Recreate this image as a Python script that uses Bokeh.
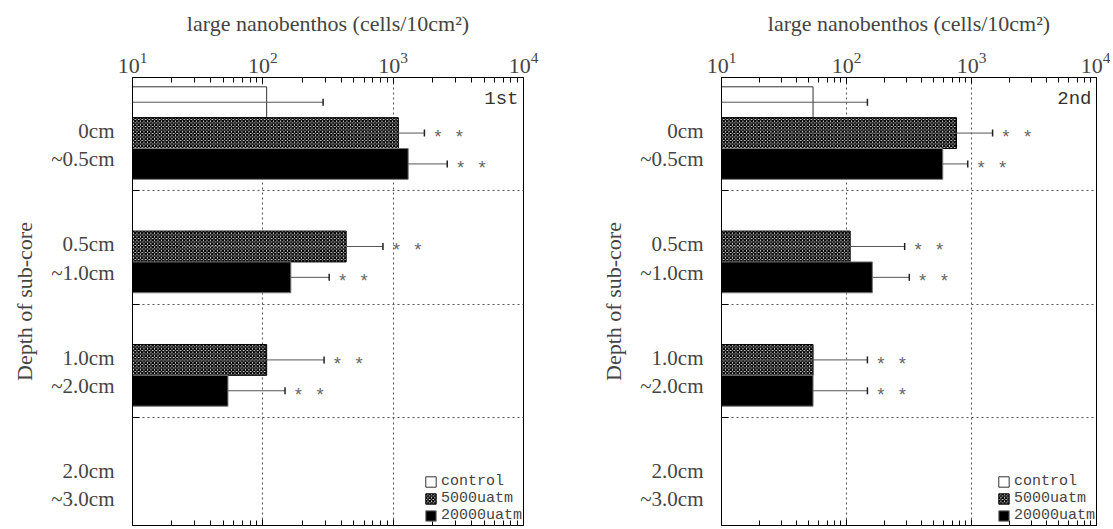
from bokeh.plotting import figure
from bokeh.models import (Range1d, FixedTicker, LogAxis, Whisker, TeeHead,
                          ColumnDataSource, Legend, LegendItem, Label,
                          CustomJSTickFormatter)
from bokeh.layouts import row
from bokeh.embed import file_html
from bokeh.resources import INLINE
from bokeh.core.properties import value

# ---------------- data ----------------
DEPTH_TOP = ["0cm", "0.5cm", "1.0cm", "2.0cm"]
DEPTH_BOTTOM = ["~0.5cm", "~1.0cm", "~2.0cm", "~3.0cm"]
SERIES = ["control", "5000uatm", "20000uatm"]
X_LABEL = "large nanobenthos (cells/10cm\u00b2)"
Y_LABEL = "Depth of sub-core"
PANEL_TAGS = ["1st", "2nd"]
X_TICKS = [10, 100, 1000, 10000]

# 1st experiment (means, upper error, lower error; None = no bar / below axis)
first_control = [107, None, None, None]
first_5000 = [1096, 436, 107, None]
first_20000 = [1304, 164, 54, None]
first_control_hi = [290, None, None, None]
first_5000_hi = [1737, 835, 295, None]
first_20000_hi = [2600, 323, 148, None]
first_control_lo = [None, None, None, None]
first_5000_lo = [427, 24, None, None]
first_20000_lo = [1304, 164, 54, None]

# 2nd experiment
second_control = [54, None, None, None]
second_5000 = [759, 107, 54, None]
second_20000 = [589, 161, 54, None]
second_control_hi = [147, None, None, None]
second_5000_hi = [1475, 292, 147, None]
second_20000_hi = [933, 318, 147, None]
second_control_lo = [None, None, None, None]
second_5000_lo = [24.6, None, None, None]
second_20000_lo = [589, 161, 54, None]

# significance marks
sig_control = ["", "", "", ""]
sig_5000 = ["* *", "* *", "* *", ""]
sig_20000 = ["* *", "* *", "* *", ""]

X_MIN, X_MAX = 10, 10000
Y_END = 3.95
SERIF = "Liberation Serif"
MONO = "Liberation Mono"

BAR_H = 0.272
OFFSETS = [-BAR_H, 0.0, BAR_H]
GROUP_MID = 0.49
LABEL_POS_TOP = 0.47
LABEL_POS_BOTTOM = 0.72

STYLES = [
    dict(fill_color="white", line_color="#333333", hatch_pattern=None),
    dict(fill_color="white", line_color="black", hatch_pattern="diagonal_cross"),
    dict(fill_color="black", line_color="#777777", hatch_pattern=None),
]


def build(tag, means, his, los, sigs, min_left, min_right, width):
    p = figure(width=width, height=527, x_axis_type="log",
               x_range=Range1d(X_MIN, X_MAX), y_range=Range1d(Y_END, 0),
               x_axis_location="above", output_backend="svg",
               toolbar_location=None, min_border_left=min_left,
               min_border_right=min_right, min_border_top=77,
               min_border_bottom=2)
    p.outline_line_color = "black"
    p.outline_line_alpha = 1.0

    minor = [m * d for d in X_TICKS[:-1] for m in range(2, 10)]
    xt = FixedTicker(ticks=X_TICKS, minor_ticks=minor)

    ax = p.xaxis[0]
    ax.ticker = xt
    ax.axis_label = X_LABEL
    ax.axis_label_text_font = SERIF
    ax.axis_label_text_font_style = "normal"
    ax.axis_label_text_font_size = "22px"
    ax.axis_label_standoff = 14
    ax.major_label_text_font = SERIF
    ax.major_label_text_font_size = "22px"
    ax.major_label_standoff = 5
    ax.major_tick_in = 6
    ax.major_tick_out = 0
    ax.minor_tick_in = 5
    ax.minor_tick_out = 0
    ax.axis_line_color = "black"

    bx = LogAxis(ticker=xt, formatter=CustomJSTickFormatter(code="return ''"),
                 major_label_text_font_size="2px", major_label_text_color=None,
                 major_label_standoff=0, major_tick_in=6, major_tick_out=0,
                 minor_tick_in=5, minor_tick_out=0)
    p.add_layout(bx, "below")

    label_pos = []
    label_txt = []
    for i in range(len(DEPTH_TOP)):
        label_pos += [i + LABEL_POS_TOP, i + LABEL_POS_BOTTOM]
        label_txt += [DEPTH_TOP[i], DEPTH_BOTTOM[i]]
    yt = FixedTicker(ticks=label_pos, minor_ticks=[1, 2, 3])
    ay = p.yaxis[0]
    ay.ticker = yt
    ay.major_label_overrides = dict(zip(label_pos, label_txt))
    ay.major_tick_line_color = None
    ay.minor_tick_in = 7
    ay.minor_tick_out = 0
    ay.major_label_text_font = SERIF
    ay.major_label_text_font_size = "21px"
    ay.major_label_standoff = 12
    ay.axis_label = Y_LABEL
    ay.axis_label_text_font = SERIF
    ay.axis_label_text_font_style = "normal"
    ay.axis_label_text_font_size = "22px"
    ay.axis_label_standoff = 11
    ay.axis_line_color = "black"

    p.xgrid[0].ticker = FixedTicker(ticks=X_TICKS[1:-1])
    p.xgrid[0].grid_line_color = "#555555"
    p.xgrid[0].grid_line_dash = "2 3"
    p.ygrid[0].ticker = FixedTicker(ticks=[1, 2, 3])
    p.ygrid[0].grid_line_color = "#555555"
    p.ygrid[0].grid_line_dash = "2 3"

    items = []
    for k, name in enumerate(SERIES):
        ys, rights, lefts, hs, ls, sg = [], [], [], [], [], []
        for i, m in enumerate(means[k]):
            if m is None:
                continue
            ys.append(i + GROUP_MID + OFFSETS[k])
            rights.append(m)
            lefts.append(X_MIN)
            hs.append(his[k][i])
            ls.append(los[k][i] if los[k][i] is not None else X_MIN)
            sg.append(sigs[k][i])
        src = ColumnDataSource(dict(y=ys, left=lefts, right=rights,
                                    hi=hs, lo=ls, sig=sg))
        st = STYLES[k]
        kw = dict(fill_color=st["fill_color"], line_color=st["line_color"],
                  line_width=1)
        if st["hatch_pattern"]:
            kw.update(hatch_pattern=st["hatch_pattern"], hatch_color="black",
                      hatch_scale=3.5, hatch_weight=1.5)
        r = p.hbar(y="y", left="left", right="right", height=BAR_H,
                   source=src, **kw)
        items.append(LegendItem(label=name, renderers=[r]))
        w = Whisker(source=src, base="y", lower="lo", upper="hi",
                    dimension="width", line_color="#555555", line_width=1,
                    upper_head=TeeHead(size=7, line_color="#222222",
                                       line_width=1.5),
                    lower_head=None, level="overlay")
        p.add_layout(w)
        p.text(x="hi", y="y", text="sig", source=src, x_offset=8, y_offset=5,
               text_baseline="middle", text_align="left",
               text_font=value(MONO), text_font_size="18px",
               text_color="#666666")

    leg = Legend(items=items, location="bottom_right")
    leg.border_line_color = None
    leg.background_fill_alpha = 0
    leg.glyph_width = 13
    leg.glyph_height = 13
    leg.label_height = 13
    leg.spacing = 0
    leg.padding = 0
    leg.margin = 1
    leg.label_standoff = 4
    leg.label_text_font = MONO
    leg.label_text_font_size = "15px"
    p.add_layout(leg)

    p.add_layout(Label(x=X_MAX, y=0, text=tag, text_align="right",
                       text_baseline="top", x_offset=-5, y_offset=-10,
                       text_font=MONO, text_font_size="19px",
                       text_color="#333333"))
    return p


p1 = build(PANEL_TAGS[0],
           [first_control, first_5000, first_20000],
           [first_control_hi, first_5000_hi, first_20000_hi],
           [first_control_lo, first_5000_lo, first_20000_lo],
           [sig_control, sig_5000, sig_20000],
           132, 48, 571)
p2 = build(PANEL_TAGS[1],
           [second_control, second_5000, second_20000],
           [second_control_hi, second_5000_hi, second_20000_hi],
           [second_control_lo, second_5000_lo, second_20000_lo],
           [sig_control, sig_5000, sig_20000],
           150, 14, 539)

layout = row(p1, p2)
open("out.html", "w").write(file_html(layout, INLINE))
